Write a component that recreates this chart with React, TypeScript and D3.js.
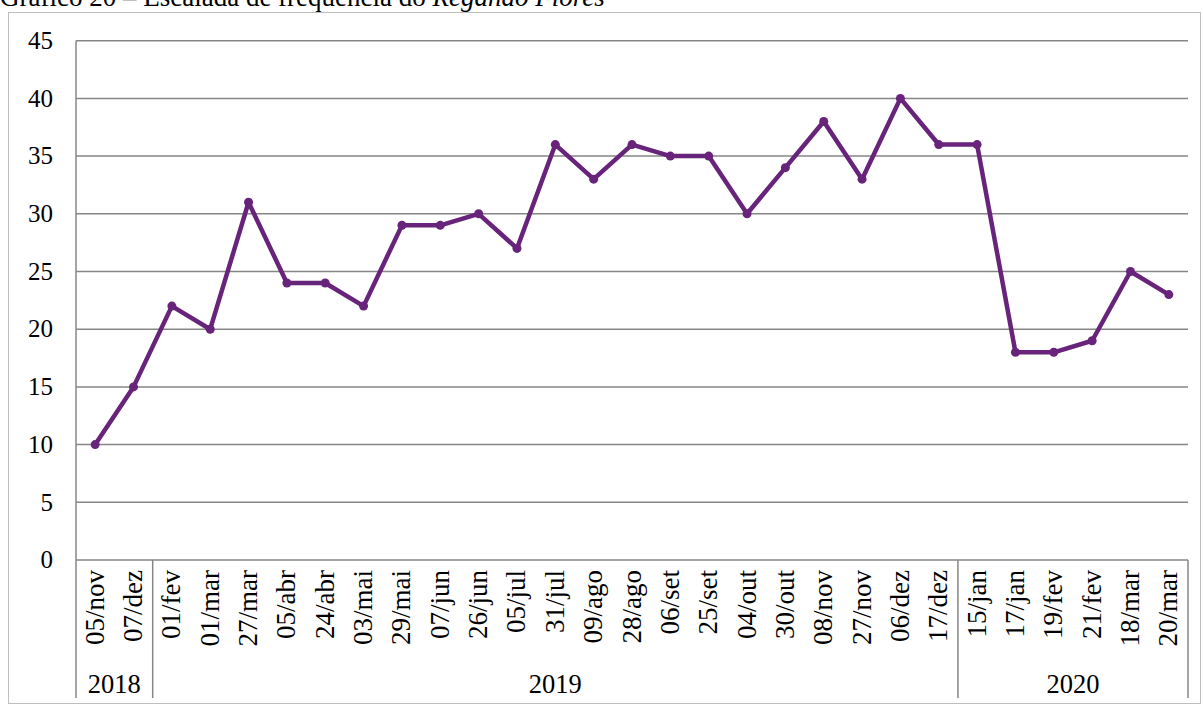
import React from "react";
import * as d3 from "d3";

// Visit dates (day/month) and attendance counts
const dates = [
  "05/nov", "07/dez",
  "01/fev", "01/mar", "27/mar", "05/abr", "24/abr", "03/mai", "29/mai", "07/jun", "26/jun",
  "05/jul", "31/jul", "09/ago", "28/ago", "06/set", "25/set", "04/out", "30/out", "08/nov",
  "27/nov", "06/dez", "17/dez",
  "15/jan", "17/jan", "19/fev", "21/fev", "18/mar", "20/mar",
];
const frequency = [
  10, 15,
  22, 20, 31, 24, 24, 22, 29, 29, 30, 27, 36, 33, 36, 35, 35, 30, 34, 38, 33, 40, 36,
  36, 18, 18, 19, 25, 23,
];
const years = ["2018", "2019", "2020"];
const yearCounts = [2, 21, 6];
const yTicks = [0, 5, 10, 15, 20, 25, 30, 35, 40, 45];

const W = 1203;
const H = 706;
const FONT = "'Liberation Serif', 'Times New Roman', serif";

export default function App() {
  const left = 76;
  const right = 1188;
  const top = 40.7;
  const bottom = 560;

  const x = d3.scaleBand<number>().domain(d3.range(dates.length)).range([left, right]).padding(0);
  const y = d3.scaleLinear().domain([0, 45]).range([bottom, top]);
  const cx = (i: number) => (x(i) as number) + x.bandwidth() / 2;

  const line = d3
    .line<number>()
    .x((_, i) => cx(i))
    .y((d) => y(d));

  // group boundaries along the category axis
  const bounds: number[] = [0];
  yearCounts.forEach((c, i) => bounds.push(bounds[i] + c));
  const edge = (k: number) => (k < dates.length ? (x(k) as number) : right);

  return (
    <svg
      width={W}
      height={H}
      style={{ position: "absolute", left: 0, top: 0, background: "#fff" }}
      fontFamily={FONT}
    >
      {/* caption, clipped at the top edge */}
      <text x={0} y={5.5} fontSize={27} fill="#000">
        Gráfico 20 – Escalada de frequência do <tspan fontStyle="italic">Regando Flores</tspan>
      </text>

      {/* outer frame */}
      <rect x={8.5} y={12.5} width={1192} height={691} fill="none" stroke="#bfbfbf" strokeWidth={1} />

      {/* horizontal gridlines */}
      {yTicks.map((t) => (
        <line key={t} x1={left} x2={right} y1={y(t)} y2={y(t)} stroke="#868686" strokeWidth={1.5} />
      ))}

      {/* value axis labels */}
      {yTicks.map((t) => (
        <text key={"l" + t} x={53} y={y(t)} dy="0.33em" textAnchor="end" fontSize={25} fill="#000">
          {t}
        </text>
      ))}

      {/* value axis line */}
      <line x1={left} x2={left} y1={top} y2={bottom} stroke="#868686" strokeWidth={1.5} />

      {/* category group separators */}
      {bounds.map((b, i) => (
        <line key={"b" + i} x1={edge(b)} x2={edge(b)} y1={bottom} y2={698} stroke="#868686" strokeWidth={1.5} />
      ))}

      {/* date labels */}
      {dates.map((d, i) => (
        <text
          key={d + i}
          transform={`translate(${cx(i) + 8.5},${570}) rotate(-90)`}
          textAnchor="end"
          fontSize={27}
          fill="#000"
        >
          {d}
        </text>
      ))}

      {/* year labels */}
      {years.map((yr, i) => (
        <text
          key={yr}
          x={(edge(bounds[i]) + edge(bounds[i + 1])) / 2}
          y={693}
          textAnchor="middle"
          fontSize={26.5}
          fill="#000"
        >
          {yr}
        </text>
      ))}

      {/* series */}
      <path d={line(frequency) ?? ""} fill="none" stroke="#68237a" strokeWidth={4.5} strokeLinejoin="round" />
      {frequency.map((v, i) => (
        <circle key={"p" + i} cx={cx(i)} cy={y(v)} r={4.5} fill="#68237a" />
      ))}
    </svg>
  );
}
